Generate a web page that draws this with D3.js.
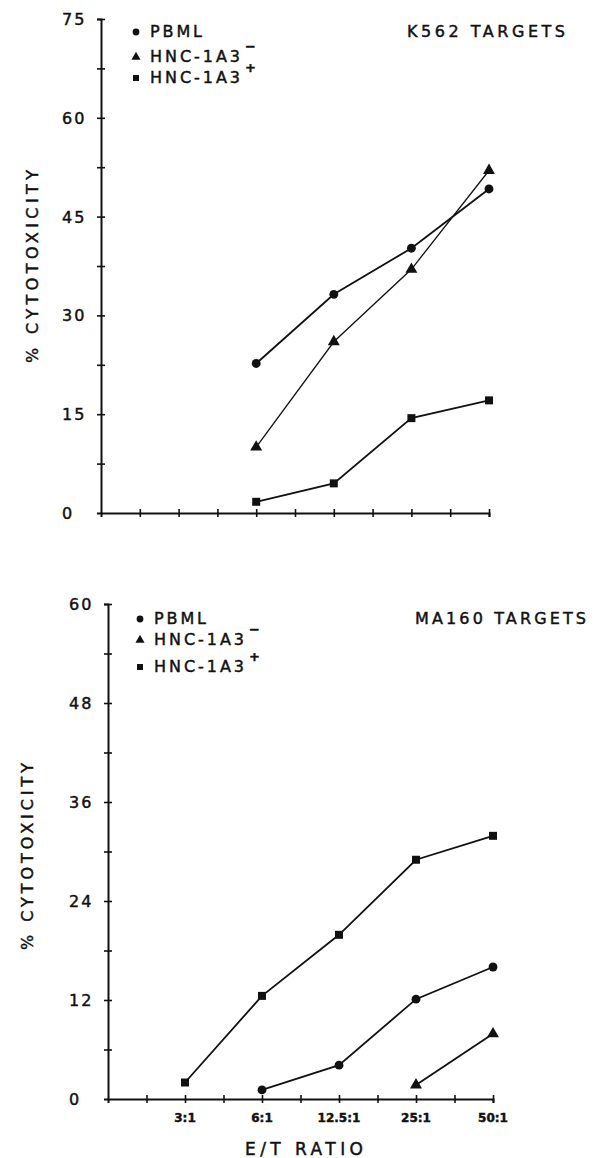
<!DOCTYPE html>
<html>
<head>
<meta charset="utf-8">
<script src="https://cdn.jsdelivr.net/npm/d3@7"></script>
<style>
  body { margin: 0; background: #fff; }
  text { font-family: "DejaVu Sans", sans-serif; fill: #111; stroke: #111; stroke-width: 0.45; }
</style>
</head>
<body>
<div id="chart"></div>
<script>
// E/T ratios (plotted at every second tick)
const ratios = ["3:1", "6:1", "12.5:1", "25:1", "50:1"];

// K562 targets, % cytotoxicity
const k562PBML = [null, 22.7, 33.2, 40.2, 49.2];
const k562Neg  = [null, 10.0, 26.0, 37.0, 52.0];
const k562Pos  = [null, 1.7, 4.5, 14.4, 17.1];

// MA160 targets, % cytotoxicity
const ma160PBML = [null, 1.1, 4.1, 12.1, 16.0];
const ma160Neg  = [null, null, null, 1.7, 7.9];
const ma160Pos  = [2.0, 12.5, 19.9, 29.0, 31.9];

const legendNames = ["PBML", "HNC-1A3", "HNC-1A3"];
const legendSup = ["", "\u2212", "+"];
const legendW = [52, 90, 90];

const svg = d3.select("#chart").append("svg")
    .attr("width", 596)
    .attr("height", 1158);

const symCircle = d3.symbol().type(d3.symbolCircle).size(62);
const symTri = d3.symbol().type(d3.symbolTriangle).size(62);
const symSquare = d3.symbol().type(d3.symbolSquare).size(64);

function drawPanel(p) {
    let g = svg.append("g");

    let x = d3.scaleLinear().domain([0, 10]).range([p.left, p.right]);
    let y = d3.scaleLinear().domain([0, p.yMax]).range([p.bottom, p.top]);

    // y axis with cross ticks
    let yAxis = g.append("g")
        .attr("transform", "translate(" + p.left + ",0)")
        .call(d3.axisLeft(y)
            .tickValues(d3.range(0, p.yMax + 0.01, p.yStep / 2))
            .tickSize(4)
            .tickFormat(""));
    yAxis.select(".domain").attr("stroke", "#111").attr("stroke-width", 2);
    yAxis.selectAll(".tick line").attr("x1", 4).attr("stroke", "#111").attr("stroke-width", 1.6);
    yAxis.selectAll(".tick").filter(d => d === 0).remove();

    // y tick labels
    g.selectAll(".ylab")
        .data(d3.range(0, p.yMax + 0.01, p.yStep))
        .join("text")
        .attr("class", "ylab")
        .attr("x", p.left - 39)
        .attr("y", d => y(d) + 6)
        .attr("font-size", 16)
        .attr("letter-spacing", 2)
        .text(d => d);

    // x axis with cross ticks
    let xAxis = g.append("g")
        .attr("transform", "translate(0," + p.bottom + ")")
        .call(d3.axisBottom(x)
            .tickValues(d3.range(1, 11))
            .tickSize(4)
            .tickFormat(""));
    xAxis.select(".domain").attr("stroke", "#111").attr("stroke-width", 2);
    xAxis.selectAll(".tick line").attr("y1", -4).attr("stroke", "#111").attr("stroke-width", 1.6);

    if (p.xLabels) {
        g.selectAll(".xlab")
            .data(ratios)
            .join("text")
            .attr("class", "xlab")
            .attr("x", (d, i) => x(2 * (i + 1)))
            .attr("y", p.bottom + 23)
            .attr("text-anchor", "middle")
            .attr("font-size", 12)
            .attr("font-weight", "bold")
            .text(d => d);

        g.append("text")
            .attr("x", 245)
            .attr("y", 1155)
            .attr("font-size", 17)
            .attr("textLength", 118)
            .attr("lengthAdjust", "spacing")
            .text("E/T RATIO");
    }

    // y title
    g.append("text")
        .attr("transform", "translate(" + p.titleX + "," + p.titleY + ") rotate(-90)")
        .attr("font-size", 16)
        .attr("textLength", p.titleW)
        .attr("lengthAdjust", "spacing")
        .text("% CYTOTOXICITY");

    // chart title
    g.append("text")
        .attr("x", p.nameX)
        .attr("y", p.nameY)
        .attr("font-size", 16)
        .attr("textLength", p.nameW)
        .attr("lengthAdjust", "spacing")
        .text(p.name);

    // series
    let line = d3.line()
        .defined(d => d.v !== null)
        .x(d => x(2 * (d.i + 1)))
        .y(d => y(d.v));

    let syms = [symCircle, symTri, symSquare];
    p.series.forEach((s, k) => {
        let pts = s.map((v, i) => ({v: v, i: i}));
        g.append("path")
            .datum(pts)
            .attr("d", line)
            .attr("fill", "none")
            .attr("stroke", "#111")
            .attr("stroke-width", k === 1 && p.thinTri ? 1.3 : 1.8);
        g.selectAll(".pt" + k)
            .data(pts.filter(d => d.v !== null))
            .join("path")
            .attr("class", "pt" + k)
            .attr("transform", d => "translate(" + x(2 * (d.i + 1)) + "," + y(d.v) + ")")
            .attr("d", syms[k])
            .attr("fill", "#111");
    });

    // legend
    legendNames.forEach((n, k) => {
        let by = p.legY[k];
        g.append("path")
            .attr("transform", "translate(" + p.legX + "," + (by - 5) + ")")
            .attr("d", d3.symbol().type([d3.symbolCircle, d3.symbolTriangle, d3.symbolSquare][k]).size(36))
            .attr("fill", "#111");
        g.append("text")
            .attr("x", p.legX + 14)
            .attr("y", by)
            .attr("font-size", 16)
            .attr("textLength", legendW[k])
            .attr("lengthAdjust", "spacing")
            .text(n);
        if (legendSup[k]) {
            g.append("text")
                .attr("x", p.legX + 14 + legendW[k] + 5)
                .attr("y", by - 11)
                .attr("font-size", 13)
                .attr("font-weight", "bold")
                .text(legendSup[k]);
        }
    });
}

drawPanel({
    left: 101, right: 489, top: 19, bottom: 513, yMax: 75, yStep: 15,
    xLabels: false, titleX: 38, titleY: 363, titleW: 193,
    name: "K562 TARGETS", nameX: 407, nameY: 37, nameW: 158,
    legX: 136, legY: [37, 62, 83],
    series: [k562PBML, k562Neg, k562Pos], thinTri: true
});

drawPanel({
    left: 108, right: 493, top: 604, bottom: 1099, yMax: 60, yStep: 12,
    xLabels: true, titleX: 33, titleY: 950, titleW: 187,
    name: "MA160 TARGETS", nameX: 415, nameY: 624, nameW: 171,
    legX: 140, legY: [624, 645, 672],
    series: [ma160PBML, ma160Neg, ma160Pos], thinTri: false
});
</script>
</body>
</html>
